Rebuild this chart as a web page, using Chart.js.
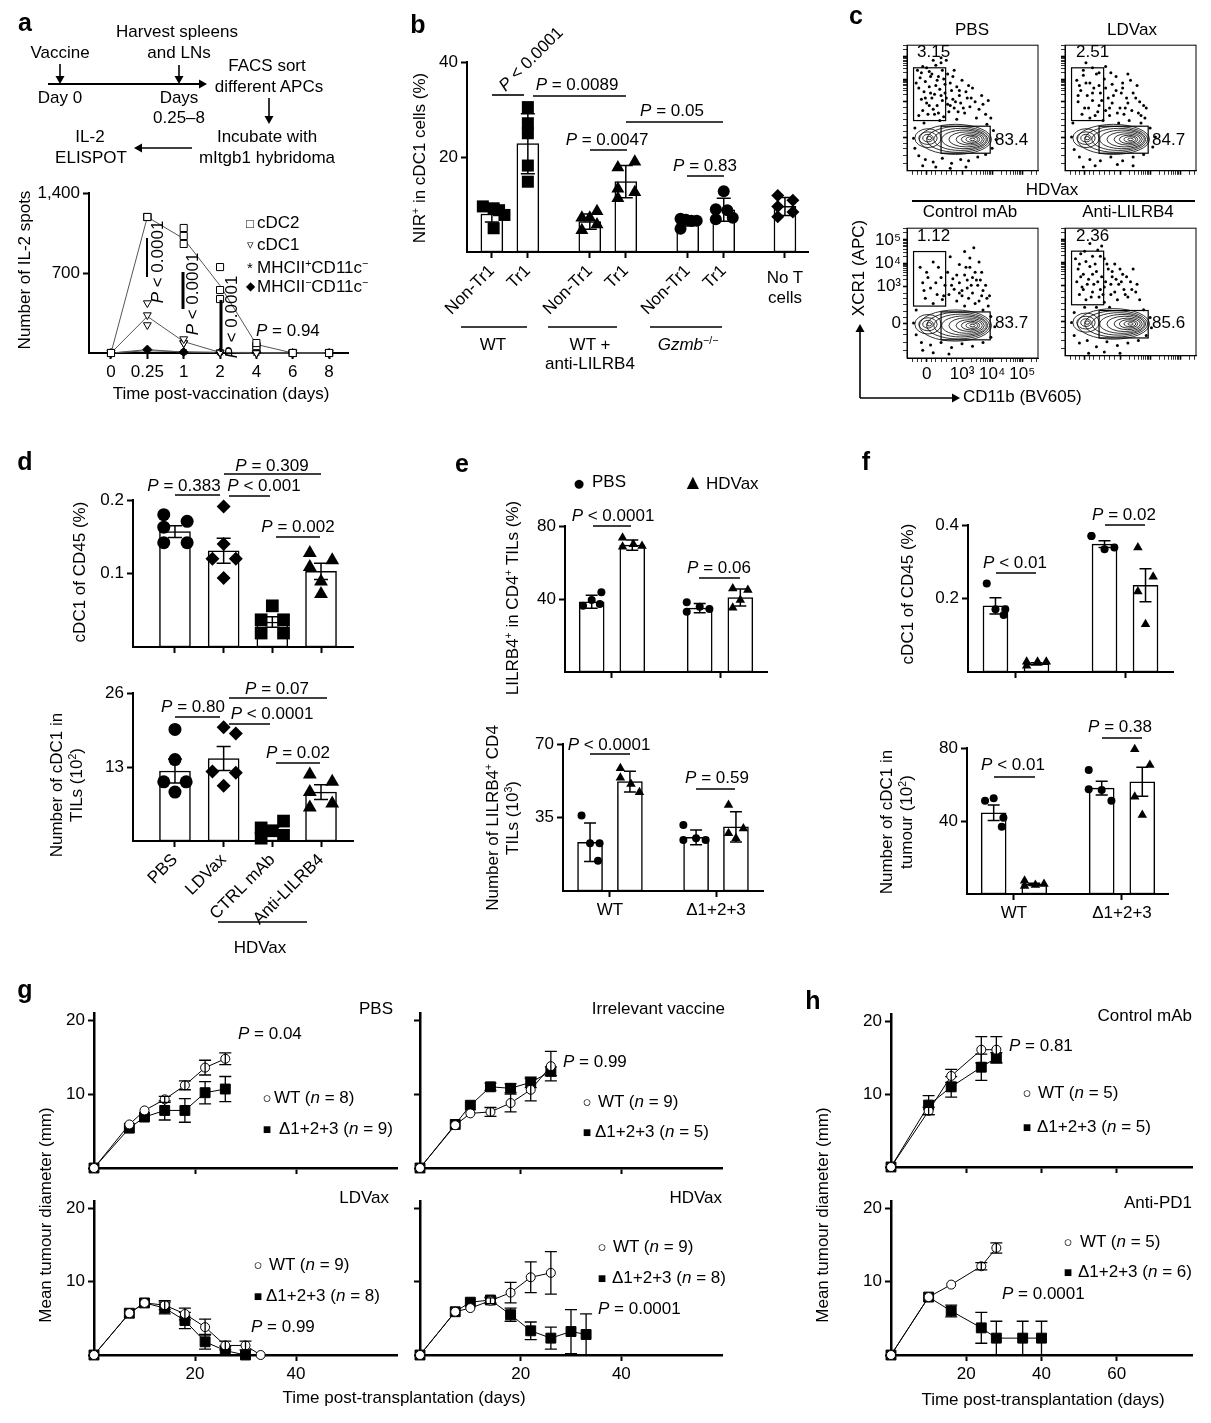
<!DOCTYPE html>
<html>
<head>
<meta charset="utf-8">
<script src="https://cdn.jsdelivr.net/npm/chart.js@4.4.0/dist/chart.umd.min.js"></script>
<style>
body { margin: 0; background: #fff; }
#page { position: relative; width: 1211px; height: 1423px; overflow: hidden; background: #fff; }
canvas { position: absolute; }
svg { position: absolute; left: 0; top: 0; }
.t { position: absolute; font: 17px "Liberation Sans", Arial, sans-serif; white-space: nowrap; line-height: 1.15; color: #000; text-align: center; }
.t sup { font-size: 0.62em; position: relative; top: -0.55em; vertical-align: 0; line-height: 0; }
.lab { font-weight: bold; font-size: 25px; }
</style>
</head>
<body>
<div id="page"></div>
<script>
// ---------- data ----------

// a: IL-2 ELISPOT
const aTimes = ["0", "0.25", "1", "2", "4", "6", "8"];
const aCdc2Mean = [0, 1190, 1000, 590, 75, 0, 0];
const aCdc2Reps = [[0, 1190, 1094, 752, 87, 0, 0], [0, 1190, 1024, 551, 60, 0, 0], [0, 1190, 954, 472, 60, 0, 0]];
const aCdc1Mean = [0, 320, 100, 5, 0, 0, 0];
const aCdc1Reps = [[0, 437, 122, 5, 0, 0, 0], [0, 332, 87, 5, 0, 0, 0], [0, 245, 87, 0, 0, 0, 0]];
const aMhcPos = [0, 20, 10, 5, 0, 0, 0];
const aMhcNeg = [0, 30, 8, 5, 5, 0, 0];

// b: NIR+ in cDC1
const bCats = ["Non-Tr1", "Tr1", "Non-Tr1", "Tr1", "Non-Tr1", "Tr1", ""];
const bBars = [8.0, 22.8, 6.4, 14.8, 6.3, 8.9, 9.6];
const bSD = [1.7, 6.3, 1.6, 3.4, 0.8, 2.4, 1.9];
const bPts = [[9.6, 9.2, 8.8, 7.8, 5.0], [30.5, 27.1, 25.0, 18.2, 14.8], [8.6, 7.2, 7.2, 5.8, 4.6],
  [17.8, 19.0, 13.3, 12.6, 11.3], [7.0, 6.8, 6.6, 6.6, 4.9], [12.8, 9.0, 8.8, 7.2, 6.9], [11.9, 10.9, 9.6, 8.4, 7.4]];

// d: cDC1 in tumour
const dCats = ["PBS", "LDVax", "CTRL mAb", "Anti-LILRB4"];
const dPctBars = [0.157, 0.131, 0.034, 0.103];
const dPctSem = [0.008, 0.017, 0.007, 0.011];
const dPctPts = [[0.180, 0.163, 0.171, 0.142, 0.142], [0.191, 0.140, 0.120, 0.120, 0.094],
  [0.056, 0.037, 0.037, 0.019, 0.019], [0.128, 0.118, 0.109, 0.089, 0.072]];
const dNumBars = [12.3, 14.5, 1.8, 8.6];
const dNumSem = [2.1, 2.1, 0.6, 1.3];
const dNumPts = [[19.6, 14.3, 10.4, 10.4, 8.6], [20.0, 18.9, 12.2, 12.0, 9.7],
  [3.5, 2.3, 1.8, 1.0, 0.5], [11.7, 10.4, 8.6, 5.9, 6.6]];

// e: LILRB4+ CD4 TILs (WT, Δ1+2+3)
const eGroups = ["WT", "Δ1+2+3"];
const ePctPbs = [38.5, 35.0], ePctPbsSD = [3.5, 2.5], ePctPbsPts = [[36.3, 39.5, 43.7, 37.3], [38.2, 33.0, 35.8, 34.5]];
const ePctHd = [69.5, 40.8], ePctHdSD = [2.8, 4.7], ePctHdPts = [[73.5, 68.6, 70.0, 69.0], [45.8, 44.9, 35.2, 39.5]];
const eNumPbs = [23.2, 25.5], eNumPbsSD = [9.2, 3.5], eNumPbsPts = [[35.9, 22.7, 22.7, 14.4], [31.4, 24.3, 25.1, 24.3]];
const eNumHd = [52.1, 30.5], eNumHdSD = [4.9, 7.2], eNumHdPts = [[58.4, 53.9, 51.0, 47.0], [41.0, 29.8, 27.5, 25.1]];

// f: cDC1 in tumour (WT, Δ1+2+3)
const fPctPbs = [0.180, 0.348], fPctPbsSem = [0.022, 0.009], fPctPbsPts = [[0.241, 0.171, 0.171, 0.155], [0.370, 0.370, 0.334, 0.339]];
const fPctHd = [0.022, 0.236], fPctHdSem = [0.003, 0.045], fPctHdPts = [[0.017, 0.028, 0.028, 0.028], [0.339, 0.259, 0.219, 0.130]];
const fNumPbs = [44.5, 58.0], fNumPbsSem = [4.2, 3.8], fNumPbsPts = [[51.1, 52.4, 41.8, 36.9], [67.9, 57.4, 57.0, 51.1]];
const fNumHd = [5.3, 61.5], fNumHdSem = [0.6, 8.0], fNumHdPts = [[7.3, 4.4, 4.9, 5.5], [79.3, 70.7, 53.3, 43.3]];

// g: tumour growth
const gPbsWtDays = [0, 7, 10, 14, 18, 22, 26];
const gPbsWt = [0, 5.9, 7.8, 9.3, 11.2, 13.6, 14.8];
const gPbsWtSem = [0, 0, 0, 0.4, 0.6, 1.0, 0.8];
const gPbsKoDays = [0, 7, 10, 14, 18, 22, 26];
const gPbsKo = [0, 5.4, 6.9, 7.8, 7.8, 10.2, 10.7];
const gPbsKoSem = [0, 0, 0, 1.3, 1.6, 1.5, 1.7];

const gIrrWtDays = [0, 7, 10, 14, 18, 22, 26];
const gIrrWt = [0, 5.8, 7.4, 7.6, 8.8, 10.6, 13.8];
const gIrrWtSem = [0, 0, 0, 0.6, 1.2, 1.5, 2.0];
const gIrrKoDays = [0, 7, 10, 14, 18, 22, 26];
const gIrrKo = [0, 5.9, 8.5, 11.0, 10.8, 11.6, 13.1];
const gIrrKoSem = [0, 0, 0, 0.5, 0.6, 0.7, 0.6];

const gLdWtDays = [0, 7, 10, 14, 18, 22, 26, 30, 33];
const gLdWt = [0, 5.7, 7.1, 6.8, 5.6, 3.8, 1.3, 1.3, 0];
const gLdWtSem = [0, 0, 0, 0.6, 0.8, 1.1, 0.6, 0.6, 0];
const gLdKoDays = [0, 7, 10, 14, 18, 22, 26, 30];
const gLdKo = [0, 5.7, 7.1, 6.4, 4.7, 1.8, 0.6, 0];
const gLdKoSem = [0, 0, 0, 0.8, 1.1, 1.0, 0.6, 0];

const gHdWtDays = [0, 7, 10, 14, 18, 22, 26];
const gHdWt = [0, 5.9, 6.4, 7.4, 8.5, 10.6, 11.2];
const gHdWtSem = [0, 0, 0, 0.4, 1.4, 2.1, 2.9];
const gHdKoDays = [0, 7, 10, 14, 18, 22, 26, 30, 33];
const gHdKo = [0, 5.9, 7.2, 7.5, 5.5, 3.3, 2.3, 3.2, 2.8];
const gHdKoSem = [0, 0, 0, 0.4, 0.9, 1.2, 1.5, 3.0, 2.8];

// h: checkpoint treatment
const hCtrlWtDays = [0, 10, 16, 24, 28];
const hCtrlWt = [0, 7.7, 12.5, 16.1, 16.1];
const hCtrlWtSem = [0, 0.5, 0.9, 1.8, 1.8];
const hCtrlKoDays = [0, 10, 16, 24, 28];
const hCtrlKo = [0, 8.5, 11.0, 13.7, 15.0];
const hCtrlKoSem = [0, 1.3, 1.4, 1.8, 0.7];

const hPd1WtDays = [0, 10, 16, 24, 28];
const hPd1Wt = [0, 7.9, 9.6, 12.1, 14.6];
const hPd1WtSem = [0, 0, 0, 0.5, 0.7];
const hPd1KoDays = [0, 10, 16, 24, 28, 35, 40];
const hPd1Ko = [0, 7.9, 6.0, 3.7, 2.3, 2.3, 2.3];
const hPd1KoSem = [0, 0, 0.8, 2.1, 2.3, 2.3, 2.3];

// c: flow plots, events in display units (0-100 on both axes)
const cTickLabels = ["0", "10³", "10⁴", "10⁵"];
const cPbsDots = [[8,80],[12,83],[17,79],[22,84],[27,80],[31,77],[10,74],[14,71],[18,75],[23,72],[28,73],[33,70],[9,66],[13,63],[17,67],[21,61],[25,65],[29,62],[34,64],[38,67],[11,57],[15,54],[19,58],[23,52],[27,56],[31,53],[35,57],[40,60],[12,48],[16,45],[20,49],[24,46],[28,43],[32,47],[36,50],[41,54],[45,63],[49,58],[44,46],[48,51],[52,55],[55,49],[58,53],[60,45],[38,41],[53,42],[20,88],[26,90],[35,75],[42,72],
  [7,70],[11,78],[15,82],[19,77],[24,75],[29,69],[26,86],[14,58],[18,62],[22,68],[26,60],[30,58],[33,52],[37,55],[39,47],[43,50],[46,58],[50,66],[9,44],[13,38],[17,52],[21,45],[25,40],[57,60],[62,56],[64,42],[30,88],[36,80],[40,64],[47,68],
  [6,34],[5,26],[6,18],[9,12],[14,9],[20,7],[27,10],[34,6],[41,9],[47,8],[54,11],[60,13],[65,18],[68,25],[66,32],[61,37],[22,3],[33,2],[45,3],[12,4]];
const cLdDots = [[9,72],[14,76],[19,70],[24,77],[30,73],[36,69],[12,64],[17,60],[22,66],[27,62],[33,58],[39,64],[44,70],[10,55],[15,50],[21,56],[26,52],[31,48],[36,54],[42,50],[47,58],[52,62],[57,55],[13,45],[19,42],[25,47],[34,44],[45,45],[51,48],[58,44],[62,50],[49,40],[41,38],[29,40],[21,82],[31,83],[16,86],[39,75],[48,77],[55,68],
  [11,68],[16,70],[21,62],[26,68],[31,66],[37,60],[43,62],[48,54],[54,58],[60,52],[18,50],[23,44],[28,56],[34,50],[40,46],[46,50],[56,46],[61,42],[10,60],[14,80],[26,78],[35,78],[44,66],[50,72],
  [6,38],[5,27],[7,17],[11,11],[19,9],[27,8],[35,11],[44,8],[52,11],[60,13],[67,19],[69,27],[65,34],[58,38],[23,4],[40,5],[14,3],[52,4]];
const cCtrlDots = [[10,70],[15,66],[20,74],[26,62],[12,58],[18,54],[23,49],[29,56],[14,46],[20,42],[27,45],[32,49],[36,53],[40,58],[44,64],[48,70],[52,66],[56,60],[42,48],[46,54],[50,50],[54,56],[58,52],[61,46],[38,44],[44,40],[52,42],[62,40],[48,77],[40,72],[55,74],[31,66],[35,61],[46,60],[44,82],[33,78],[51,85],[57,66],
  [42,52],[47,46],[53,60],[57,48],[60,56],[45,70],[50,62],[38,64],[34,56],[40,50],[16,62],[22,58],[24,70],[13,52],[28,48],[63,48],[55,44],[49,56],
  [7,37],[5,27],[7,18],[11,12],[18,10],[26,12],[34,8],[42,11],[50,9],[58,12],[64,16],[67,24],[64,32],[58,37],[20,4],[32,3],[12,6]];
const cAntiDots = [[8,76],[12,80],[16,74],[21,78],[25,83],[30,76],[10,68],[14,64],[19,70],[24,66],[28,62],[33,68],[38,72],[9,58],[13,54],[18,60],[22,56],[27,52],[31,58],[36,62],[41,56],[11,48],[16,44],[21,50],[26,46],[30,42],[35,48],[40,44],[45,52],[50,58],[48,46],[54,50],[57,44],[44,64],[52,68],[34,38],[24,38],[15,38],[19,88],[28,86],
  [11,72],[15,82],[23,72],[27,78],[32,72],[36,66],[12,62],[17,56],[21,64],[25,58],[30,54],[35,56],[39,60],[43,58],[46,48],[51,52],[20,46],[14,52],[29,48],[38,50],[55,56],[42,68],[47,62],
  [7,34],[5,26],[7,16],[11,10],[17,12],[24,7],[32,11],[40,8],[48,10],[56,12],[62,16],[66,22],[65,30],[60,36],[18,2],[30,3],[42,2]];
// density contour levels: centre x, centre y, radius x, radius y
const cContours = [[37,25,27.5,12],[16,26,10,7.5],[39,25,24,10.3],[41,25,20.5,8.8],[43.5,25,17,7.4],[45.5,25,13.5,6],[47.5,25,10,4.5],[48.5,25,7,3.3],[49.5,25,4.5,2.2],[50,25,2,1],[16,26,7,5],[16,26,4,3],[17,26,1.8,1.3]];

// ---------- layout ----------
const bPos = [0, 1, 2.72, 3.72, 5.44, 6.44, 8.14];
const bJit = [[-0.25, 0.05, 0.2, 0.35, 0.05], [0, 0, 0, 0, 0], [0.2, -0.22, 0, 0.2, -0.22], [-0.22, 0.25, -0.22, 0.25, -0.22],
  [-0.2, -0.05, 0.1, 0.25, -0.2], [0, -0.22, 0.1, 0.25, -0.22], [-0.2, 0.22, -0.2, 0.22, -0.2]];
const dPctJit = [[-0.23, -0.23, 0.25, -0.23, 0.25], [0, 0, -0.23, 0.25, 0], [0, -0.23, 0.23, -0.23, 0.23], [-0.23, 0.23, -0.23, 0, 0]];
const dNumJit = [[0, 0, -0.23, 0.23, 0], [0, 0.25, -0.23, 0.25, 0], [0.23, -0.23, 0, 0.23, -0.23], [-0.23, 0.23, -0.23, -0.23, 0.23]];
const FONT = '"Liberation Sans", Arial, sans-serif';

Chart.defaults.font.family = FONT;
Chart.defaults.font.size = 17;
Chart.defaults.color = "#000";

const page = document.getElementById("page");

function errBars(list) {
  return {
    id: "errs",
    afterDatasetDraw(chart, args) {
      const ys = chart.scales.y, ctx = chart.ctx;
      list.filter(e => e.ds === args.index).forEach(e => {
        const ds = chart.data.datasets[e.ds];
        ctx.save();
        ctx.strokeStyle = "#000";
        ctx.lineWidth = e.lw || 1.5;
        args.meta.data.forEach((el, i) => {
          const er = e.err[i];
          if (!er) return;
          const v = ds.data[i].y;
          const x = el.x, y1 = ys.getPixelForValue(v + er), y2 = ys.getPixelForValue(Math.max(v - er, 0));
          ctx.beginPath();
          ctx.moveTo(x, y1); ctx.lineTo(x, y2);
          ctx.moveTo(x - e.cap, y1); ctx.lineTo(x + e.cap, y1);
          ctx.moveTo(x - e.cap, y2); ctx.lineTo(x + e.cap, y2);
          ctx.stroke();
        });
        ctx.restore();
      });
    }
  };
}

function axis(min, max, tv, tl, o = {}) {
  return {
    type: "linear", min, max, bounds: "data", offset: false,
    border: { color: "#000", width: o.bw || 2 },
    grid: { offset: false, drawOnChartArea: false, drawTicks: true, tickLength: o.tlen || 6, tickColor: "#000", tickWidth: o.tw || 2 },
    ticks: { padding: 3, autoSkip: false, minRotation: o.rot || 0, maxRotation: o.rot || 0, color: "#000", font: { size: 17 }, callback: (v, i) => tl[i] },
    afterBuildTicks: s => { s.ticks = tv.map(v => ({ value: v })); }
  };
}

function mkChart(area, pad, cfg) {
  const [l, t, r, b] = area, [pt, pr, pb, pl] = pad;
  const c = document.createElement("canvas");
  const w = r - l + pl + pr, h = b - t + pt + pb;
  c.width = w; c.height = h;
  c.style.left = (l - pl) + "px";
  c.style.top = (t - pt) + "px";
  page.appendChild(c);
  const o = cfg.options;
  o.responsive = false;
  o.animation = false;
  o.layout = { padding: { top: pt, right: pr, left: 0, bottom: 0 }, autoPadding: false };
  o.scales.x.afterFit = s => { s.height = pb; };
  o.scales.y.afterFit = s => { s.width = pl; };
  o.plugins = { legend: { display: false }, tooltip: { enabled: false } };
  return new Chart(c, cfg);
}

// bars with individual points and error bars
function dotBar(area, pad, o) {
  const ds = [{
    type: "bar", data: o.pos.map((x, i) => ({ x, y: o.bars[i] })), barThickness: o.bw,
    backgroundColor: "#fff", borderColor: "#000", borderWidth: 1.5, borderSkipped: false, order: 5
  }];
  o.pts.forEach((g, gi) => {
    const m = o.marks[gi];
    ds.push({
      type: "scatter", data: g.map((v, k) => ({ x: o.pos[gi] + o.jit[gi][k], y: v })),
      pointStyle: m[0], pointRadius: m[1], pointBackgroundColor: "#000", pointBorderColor: "#000",
      pointBorderWidth: 0, order: 1, clip: false
    });
  });
  return mkChart(area, pad, {
    type: "bar",
    data: { datasets: ds },
    options: { scales: { x: axis(o.xr[0], o.xr[1], o.xt || o.pos, o.xl, { rot: o.rot }), y: axis(0, o.ymax, o.yt, o.yl) } },
    plugins: [errBars([{ ds: 0, err: o.err, cap: o.cap || 7 }])]
  });
}

function interleave(a, b) { return [a[0], b[0], a[1], b[1]]; }
const PAIR = [1 - 0.188, 1 + 0.188, 2 - 0.188, 2 + 0.188];
const JIT4 = [[-0.08, 0, 0.09, 0.075], [-0.09, -0.09, 0.01, 0.09], [-0.12, -0.12, 0, 0.09], [-0.07, 0.07, -0.07, 0]];

// tumour growth curves
function tumour(area, pad, o) {
  const ds = [
    { data: o.wd.map((d, i) => ({ x: d, y: o.w[i] })), borderColor: "#000", borderWidth: 1, tension: 0,
      pointStyle: "circle", pointRadius: 4.5, pointBackgroundColor: "#fff", pointBorderColor: "#000", pointBorderWidth: 1, clip: false },
    { data: o.kd.map((d, i) => ({ x: d, y: o.k[i] })), borderColor: "#000", borderWidth: 1, tension: 0,
      pointStyle: "rect", pointRadius: 7, pointBackgroundColor: "#000", pointBorderColor: "#000", pointBorderWidth: 1, clip: false }
  ];
  return mkChart(area, pad, {
    type: "line",
    data: { datasets: ds },
    options: { scales: {
      x: axis(0, o.xmax, o.xt, o.xl, { bw: 2.5 }),
      y: axis(0, 21, [0, 10, 20], o.yl, { bw: 2.5 })
    } },
    plugins: [errBars([{ ds: 1, err: o.ke, cap: 6, lw: 1.3 }, { ds: 0, err: o.we, cap: 6, lw: 1.3 }])]
  });
}

// flow plots
const xMinor = [4, 8, 11, 19, 22, 26, 30, 34, 38];
[42, 65].forEach(b => [2, 3, 4, 5, 6, 7, 8, 9].forEach(m => xMinor.push(b + 23 * Math.log10(m))));
xMinor.push(88 + 23 * Math.log10(2), 88 + 23 * Math.log10(3));
const yMinor = [6, 12, 18, 22, 31, 36, 41, 46, 50];
[55, 73].forEach(b => [2, 3, 4, 5, 6, 7, 8, 9].forEach(m => yMinor.push(b + 18 * Math.log10(m))));
yMinor.push(91 + 18 * Math.log10(2), 91 + 18 * Math.log10(3));

function flowAxis(major, minor, labels) {
  const all = major.map((v, i) => ({ v, l: labels ? labels[i] : "", M: true }))
    .concat(minor.map(v => ({ v, l: "", M: false }))).sort((a, b) => a.v - b.v);
  return {
    type: "linear", min: 0, max: 100, bounds: "data", offset: false,
    border: { color: "#000", width: 1 },
    grid: { offset: false, drawOnChartArea: false, tickLength: 4, tickColor: "#000", tickWidth: c => (c.index !== undefined && all[c.index] && all[c.index].M) ? 1.6 : 0.8 },
    ticks: { padding: 2, autoSkip: false, minRotation: 0, maxRotation: 0, font: { size: 17 }, callback: (v, i) => all[i].l },
    afterBuildTicks: s => { s.ticks = all.map(t => ({ value: t.v })); }
  };
}

function flowPlot(area, pad, dots, labelled) {
  const gates = [[5, 40, 29.5, 82], [26, 14, 63.5, 35.5]];
  const deco = {
    id: "flow",
    afterDatasetsDraw(chart) {
      const { ctx, chartArea: ca, scales: { x, y } } = chart;
      const kx = (x.getPixelForValue(100) - x.getPixelForValue(0)) / 100;
      const ky = (y.getPixelForValue(0) - y.getPixelForValue(100)) / 100;
      ctx.save();
      ctx.fillStyle = "#fff";
      cContours.slice(0, 2).forEach(c => {
        ctx.beginPath();
        ctx.ellipse(x.getPixelForValue(c[0]), y.getPixelForValue(c[1]), c[2] * kx, c[3] * ky, 0, 0, 2 * Math.PI);
        ctx.fill();
      });
      ctx.strokeStyle = "#000";
      ctx.lineWidth = 0.8;
      cContours.forEach(c => {
        ctx.beginPath();
        ctx.ellipse(x.getPixelForValue(c[0]), y.getPixelForValue(c[1]), c[2] * kx, c[3] * ky, 0, 0, 2 * Math.PI);
        ctx.stroke();
      });
      ctx.lineWidth = 1.2;
      gates.forEach(g => {
        const x1 = x.getPixelForValue(g[0]), x2 = x.getPixelForValue(g[2]);
        const y1 = y.getPixelForValue(g[3]), y2 = y.getPixelForValue(g[1]);
        ctx.strokeRect(x1, y1, x2 - x1, y2 - y1);
      });
      ctx.lineWidth = 1;
      ctx.strokeRect(ca.left, ca.top, ca.width, ca.height);
      ctx.restore();
    }
  };
  return mkChart(area, pad, {
    type: "scatter",
    data: { datasets: [{ data: dots.map(p => ({ x: p[0], y: p[1] })), pointRadius: 1.5, pointBackgroundColor: "#000", pointBorderWidth: 0, clip: false }] },
    options: { scales: {
      x: flowAxis([15, 42, 65, 88], xMinor, labelled ? cTickLabels : null),
      y: flowAxis([26.5, 55, 73, 91], yMinor, labelled ? cTickLabels : null)
    } },
    plugins: [deco]
  });
}

// ---------- charts ----------
// a
(function () {
  const ds = [];
  [aCdc2Mean, aCdc1Mean, aMhcPos, aMhcNeg].forEach(m => ds.push({ type: "line", data: m.map((v, i) => ({ x: i, y: v })), borderColor: "#555", borderWidth: 1, pointRadius: 0, order: 5, clip: false }));
  const sc = (arr, style, r, fill, rot) => ({
    type: "scatter", data: arr.map((v, i) => ({ x: i, y: v })), pointStyle: style, pointRadius: r, pointRotation: rot || 0,
    pointBackgroundColor: fill, pointBorderColor: "#000", pointBorderWidth: 1, order: 1, clip: false
  });
  aCdc2Reps.forEach(r => ds.push(sc(r, "rect", 5, "#fff")));
  aCdc1Reps.forEach(r => ds.push(sc(r, "triangle", 4.5, "#fff", 180)));
  ds.push(sc(aMhcPos, "star", 4, "#000"));
  ds.push(sc(aMhcNeg, "rectRot", 4.5, "#000"));
  mkChart([89, 193, 348, 353], [20, 10, 50, 60], {
    type: "line",
    data: { datasets: ds },
    options: { scales: {
      x: axis(-0.605, 6.52, [0, 1, 2, 3, 4, 5, 6], aTimes),
      y: axis(0, 1400, [700, 1400], ["700", "1,400"])
    } }
  });
})();

// b
dotBar([467, 62, 808, 252], [20, 10, 100, 50], {
  pos: bPos, bars: bBars, err: bSD, pts: bPts, jit: bJit, bw: 22, cap: 7,
  marks: [["rect", 8.5], ["rect", 8.5], ["triangle", 7.5], ["triangle", 7.5], ["circle", 6], ["circle", 6], ["rectRot", 6.5]],
  xr: [-0.69, 8.78], xl: bCats, rot: 45, ymax: 40, yt: [20, 40], yl: ["20", "40"]
});

// d
const dMarks = [["circle", 6.5], ["rectRot", 7], ["rect", 9], ["triangle", 8]];
dotBar([133, 500, 353, 647], [20, 10, 20, 60], {
  pos: [1, 2, 3, 4], bars: dPctBars, err: dPctSem, pts: dPctPts, jit: dPctJit, bw: 31, cap: 7, marks: dMarks,
  xr: [0.138, 4.657], xl: ["", "", "", ""], ymax: 0.2, yt: [0.1, 0.2], yl: ["0.1", "0.2"]
});
dotBar([133, 693, 353, 841], [20, 10, 110, 60], {
  pos: [1, 2, 3, 4], bars: dNumBars, err: dNumSem, pts: dNumPts, jit: dNumJit, bw: 31, cap: 7, marks: dMarks,
  xr: [0.138, 4.657], xl: dCats, rot: 45, ymax: 26, yt: [13, 26], yl: ["13", "26"]
});

// e, f: two genotypes x two treatments
const e4Marks = [["circle", 4], ["triangle", 5.5], ["circle", 4], ["triangle", 5.5]];
function pairChart(area, pad, xr, pbs, hd, pbsE, hdE, pbsP, hdP, ymax, yt, yl, xl) {
  return dotBar(area, pad, {
    pos: PAIR, xt: [1, 2], bars: interleave(pbs, hd), err: interleave(pbsE, hdE), pts: interleave(pbsP, hdP), jit: JIT4,
    bw: 25, cap: 6, marks: e4Marks, xr, xl, ymax, yt, yl
  });
}
pairChart([565, 526, 767, 672], [20, 10, 20, 60], [0.565, 2.435], ePctPbs, ePctHd, ePctPbsSD, ePctHdSD, ePctPbsPts, ePctHdPts, 80, [40, 80], ["40", "80"], ["", ""]);
pairChart([563, 744, 763, 891], [20, 10, 40, 60], [0.557, 2.443], eNumPbs, eNumHd, eNumPbsSD, eNumHdSD, eNumPbsPts, eNumHdPts, 70, [35, 70], ["35", "70"], eGroups);
pairChart([968, 525, 1173, 672], [20, 10, 20, 60], [0.56, 2.44], fPctPbs, fPctHd, fPctPbsSem, fPctHdSem, fPctPbsPts, fPctHdPts, 0.4, [0.2, 0.4], ["0.2", "0.4"], ["", ""]);
pairChart([967, 748, 1168, 894], [20, 10, 40, 60], [0.565, 2.426], fNumPbs, fNumHd, fNumPbsSem, fNumHdSem, fNumPbsPts, fNumHdPts, 80, [40, 80], ["40", "80"], eGroups);

// c
flowPlot([907, 43, 1038, 173], [10, 10, 10, 10], cPbsDots, false);
flowPlot([1065, 43, 1196, 173], [10, 10, 10, 10], cLdDots, false);
flowPlot([907, 226, 1038, 358], [10, 10, 40, 55], cCtrlDots, true);
flowPlot([1065, 226, 1196, 358], [10, 10, 10, 10], cAntiDots, false);

// g
tumour([94, 1013, 397, 1168], [20, 10, 30, 60], { wd: gPbsWtDays, w: gPbsWt, we: gPbsWtSem, kd: gPbsKoDays, k: gPbsKo, ke: gPbsKoSem, xmax: 60, xt: [20, 40], xl: ["", ""], yl: ["", "10", "20"] });
tumour([420, 1013, 722, 1168], [20, 10, 30, 20], { wd: gIrrWtDays, w: gIrrWt, we: gIrrWtSem, kd: gIrrKoDays, k: gIrrKo, ke: gIrrKoSem, xmax: 60, xt: [20, 40], xl: ["", ""], yl: ["", "", ""] });
tumour([94, 1201, 397, 1355], [20, 10, 30, 60], { wd: gLdWtDays, w: gLdWt, we: gLdWtSem, kd: gLdKoDays, k: gLdKo, ke: gLdKoSem, xmax: 60, xt: [20, 40], xl: ["20", "40"], yl: ["", "10", "20"] });
tumour([420, 1201, 722, 1355], [20, 10, 30, 20], { wd: gHdWtDays, w: gHdWt, we: gHdWtSem, kd: gHdKoDays, k: gHdKo, ke: gHdKoSem, xmax: 60, xt: [20, 40], xl: ["20", "40"], yl: ["", "", ""] });
// h
tumour([891, 1014, 1192, 1167], [20, 10, 30, 60], { wd: hCtrlWtDays, w: hCtrlWt, we: hCtrlWtSem, kd: hCtrlKoDays, k: hCtrlKo, ke: hCtrlKoSem, xmax: 80, xt: [20, 40, 60], xl: ["", "", ""], yl: ["", "10", "20"] });
tumour([891, 1201, 1192, 1355], [20, 10, 30, 60], { wd: hPd1WtDays, w: hPd1Wt, we: hPd1WtSem, kd: hPd1KoDays, k: hPd1Ko, ke: hPd1KoSem, xmax: 80, xt: [20, 40, 60], xl: ["20", "40", "60"], yl: ["", "10", "20"] });

// ---------- lines, arrows ----------
const NS = "http://www.w3.org/2000/svg";
const svg = document.createElementNS(NS, "svg");
svg.setAttribute("width", 1211);
svg.setAttribute("height", 1423);
page.appendChild(svg);
function L(x1, y1, x2, y2, w) {
  const l = document.createElementNS(NS, "line");
  [["x1", x1], ["y1", y1], ["x2", x2], ["y2", y2], ["stroke", "#000"], ["stroke-width", w || 1.6]].forEach(a => l.setAttribute(a[0], a[1]));
  svg.appendChild(l);
}
function head(x, y, dir) {
  const s = 8, h = 4.5;
  const p = { r: [[x, y], [x - s, y - h], [x - s, y + h]], l: [[x, y], [x + s, y - h], [x + s, y + h]],
    d: [[x, y], [x - h, y - s], [x + h, y - s]], u: [[x, y], [x - h, y + s], [x + h, y + s]] }[dir];
  const g = document.createElementNS(NS, "polygon");
  g.setAttribute("points", p.map(q => q.join(",")).join(" "));
  g.setAttribute("fill", "#000");
  svg.appendChild(g);
}
// a schematic
L(48, 84, 200, 84, 2); head(207, 84, "r");
L(60, 64, 60, 78, 1.6); head(60, 84, "d");
L(179, 65, 179, 78, 1.6); head(179, 84, "d");
L(269, 98, 269, 117, 1.6); head(269, 124, "d");
L(192, 148, 141, 148, 1.6); head(134, 148, "l");
L(147, 238, 147, 277, 2); L(183, 272, 183, 309, 3); L(221, 300, 221, 352, 3);
// b
[[492, 95, 524, 95], [533, 96, 626, 96], [626, 122, 723, 122], [590, 150, 627, 150], [687, 176, 724, 176],
 [461, 327, 527, 327], [548, 327, 617, 327], [650, 327, 722, 327]].forEach(a => L(...a));
// c
L(912, 201, 1195, 201, 2);
L(860, 398, 860, 331, 1.6); head(860, 324, "u");
L(860, 398, 953, 398, 1.6); head(960, 398, "r");
// d
[[175, 495, 220, 495], [224, 474, 321, 474], [229, 496, 270, 496], [276, 537, 320, 537],
 [175, 717, 220, 717], [229, 698, 327, 698], [229, 724, 270, 724], [276, 763, 320, 763], [218, 922, 307, 922]].forEach(a => L(...a));
// e, f
[[593, 526, 631, 526], [699, 578, 740, 578], [590, 754, 630, 754], [696, 789, 735, 789],
 [996, 573, 1036, 573], [1105, 525, 1145, 525], [994, 777, 1035, 777], [1102, 738, 1142, 738]].forEach(a => L(...a));

// ---------- text ----------
function T(x, y, html, al, ex) {
  const d = document.createElement("div");
  d.className = "t";
  d.innerHTML = html;
  d.style.left = x + "px";
  d.style.top = y + "px";
  const tx = al === "l" ? "0" : al === "r" ? "-100%" : "-50%";
  let tf = "translate(" + tx + ",-50%)";
  if (ex && ex.rot) tf += " rotate(" + ex.rot + "deg)";
  d.style.transform = tf;
  if (ex && ex.size) d.style.fontSize = ex.size + "px";
  if (ex && ex.cls) d.classList.add(ex.cls);
  page.appendChild(d);
}
const P = "<i>P</i>";
const WT = n => "WT (<i>n</i> = " + n + ")";
const KO = n => "Δ1+2+3 (<i>n</i> = " + n + ")";
function legendPair(x, yW, yK, txW, txK, nW, nK) {
  T(x, yW, "○", "c", { size: 15 }); T(txW, yW, WT(nW), "l");
  T(x, yK, "■", "c", { size: 14 }); T(txK, yK, KO(nK), "l");
}

// panel letters
[[25, 22, "a"], [418, 24, "b"], [856, 15, "c"], [25, 461, "d"], [462, 463, "e"], [866, 461, "f"], [25, 989, "g"], [813, 1000, "h"]]
  .forEach(a => T(a[0], a[1], a[2], "c", { cls: "lab" }));

// a
[[60, 53, "Vaccine"], [177, 32, "Harvest spleens"], [179, 53, "and LNs"], [60, 98, "Day 0"], [179, 98, "Days"], [179, 118, "0.25–8"],
 [267, 66, "FACS sort"], [269, 87, "different APCs"], [267, 137, "Incubate with"], [267, 158, "mItgb1 hybridoma"],
 [90, 137, "IL-2"], [91, 158, "ELISPOT"]].forEach(a => T(a[0], a[1], a[2], "c"));
T(250, 224, "□", "c", { size: 13 }); T(257, 223, "cDC2", "l");
T(250, 245, "▿", "c", { size: 13 }); T(257, 245, "cDC1", "l");
T(250, 268, "*", "c", { size: 15 }); T(257, 268, "MHCII<sup>+</sup>CD11c<sup>−</sup>", "l");
T(250, 287, "◆", "c", { size: 12 }); T(257, 287, "MHCII<sup>−</sup>CD11c<sup>−</sup>", "l");
T(158, 262, P + " &lt; 0.0001", "c", { rot: -90 });
T(193, 294, P + " &lt; 0.0001", "c", { rot: -90 });
T(232, 317, P + " &lt; 0.0001", "c", { rot: -90 });
T(256, 331, P + " = 0.94", "l");
T(25, 270, "Number of IL-2 spots", "c", { rot: -90 });
T(221, 394, "Time post-vaccination (days)", "c");

// b
T(420, 158, "NIR<sup>+</sup> in cDC1 cells (%)", "c", { rot: -90 });
T(531, 59, P + " &lt; 0.0001", "c", { rot: -45 });
T(577, 85, P + " = 0.0089", "c"); T(672, 111, P + " = 0.05", "c");
T(607, 140, P + " = 0.0047", "c"); T(705, 166, P + " = 0.83", "c");
T(785, 278, "No T", "c"); T(785, 298, "cells", "c");
T(493, 345, "WT", "c"); T(590, 345, "WT +", "c"); T(590, 364, "anti-LILRB4", "c");
T(688, 345, "<i>Gzmb</i><sup>−/−</sup>", "c");

// c
T(972, 30, "PBS", "c"); T(1132, 30, "LDVax", "c"); T(1052, 190, "HDVax", "c");
T(970, 212, "Control mAb", "c"); T(1128, 212, "Anti-LILRB4", "c");
T(917, 52, "3.15", "l"); T(995, 140, "83.4", "l"); T(1076, 52, "2.51", "l"); T(1152, 140, "84.7", "l");
T(917, 236, "1.12", "l"); T(995, 323, "83.7", "l"); T(1076, 236, "2.36", "l"); T(1152, 323, "85.6", "l");
T(859, 268, "XCR1 (APC)", "c", { rot: -90 });
T(963, 397, "CD11b (BV605)", "l");

// d
T(184, 486, P + " = 0.383", "c"); T(272, 466, P + " = 0.309", "c"); T(264, 486, P + " &lt; 0.001", "c"); T(298, 527, P + " = 0.002", "c");
T(193, 707, P + " = 0.80", "c"); T(277, 689, P + " = 0.07", "c"); T(272, 714, P + " &lt; 0.0001", "c"); T(298, 753, P + " = 0.02", "c");
T(260, 948, "HDVax", "c");
T(80, 572, "cDC1 of CD45 (%)", "c", { rot: -90 });
T(67, 785, "Number of cDC1 in<br>TILs (10<sup>2</sup>)", "c", { rot: -90 });

// e
T(579, 483, "●", "c", { size: 21 }); T(592, 482, "PBS", "l");
T(693, 482, "▲", "c", { size: 21 }); T(706, 484, "HDVax", "l");
T(613, 516, P + " &lt; 0.0001", "c"); T(719, 568, P + " = 0.06", "c");
T(609, 745, P + " &lt; 0.0001", "c"); T(717, 778, P + " = 0.59", "c");
T(513, 598, "LILRB4<sup>+</sup> in CD4<sup>+</sup> TILs (%)", "c", { rot: -90 });
T(503, 818, "Number of LILRB4<sup>+</sup> CD4<br>TILs (10<sup>3</sup>)", "c", { rot: -90 });

// f
T(1015, 563, P + " &lt; 0.01", "c"); T(1124, 515, P + " = 0.02", "c");
T(1013, 765, P + " &lt; 0.01", "c"); T(1120, 727, P + " = 0.38", "c");
T(908, 594, "cDC1 of CD45 (%)", "c", { rot: -90 });
T(897, 822, "Number of cDC1 in<br>tumour (10<sup>2</sup>)", "c", { rot: -90 });

// g
T(393, 1009, "PBS", "r"); T(238, 1034, P + " = 0.04", "l");
legendPair(267, 1098, 1129, 274, 279, 8, 9);
T(725, 1009, "Irrelevant vaccine", "r"); T(563, 1062, P + " = 0.99", "l");
legendPair(587, 1102, 1132, 598, 595, 9, 5);
T(389, 1198, "LDVax", "r");
legendPair(258, 1265, 1296, 269, 266, 9, 8);
T(251, 1327, P + " = 0.99", "l");
T(722, 1198, "HDVax", "r");
legendPair(602, 1247, 1278, 613, 612, 9, 8);
T(598, 1309, P + " = 0.0001", "l");
T(404, 1398, "Time post-transplantation (days)", "c");
T(46, 1215, "Mean tumour diameter (mm)", "c", { rot: -90 });

// h
T(1192, 1016, "Control mAb", "r"); T(1009, 1046, P + " = 0.81", "l");
legendPair(1027, 1093, 1127, 1038, 1037, 5, 5);
T(1192, 1203, "Anti-PD1", "r");
legendPair(1068, 1242, 1272, 1080, 1078, 5, 6);
T(1002, 1294, P + " = 0.0001", "l");
T(1043, 1400, "Time post-transplantation (days)", "c");
T(823, 1215, "Mean tumour diameter (mm)", "c", { rot: -90 });
</script>
</body>
</html>
